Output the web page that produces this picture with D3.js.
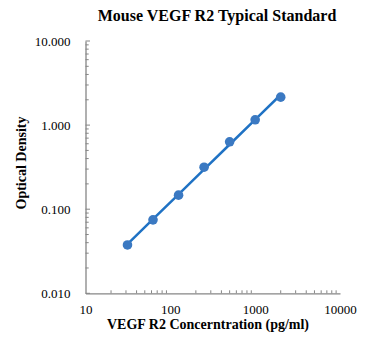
<!DOCTYPE html>
<html><head><meta charset="utf-8">
<script src="https://cdn.jsdelivr.net/npm/d3@7"></script>
<style>body{margin:0;background:#fff}svg{display:block}text{font-family:"Liberation Serif","Times New Roman",serif}</style>
</head><body>
<svg id="c" width="371" height="350"></svg>
<script>
const concentrations = [31.25, 62.5, 125, 250, 500, 1000, 2000];
const opticalDensity = [0.0376, 0.0747, 0.147, 0.316, 0.633, 1.156, 2.15];
const xTickValues = [10, 100, 1000, 10000];
const yTickValues = [0.01, 0.1, 1, 10];
const title = "Mouse VEGF R2 Typical Standard";
const xTitle = "VEGF R2 Concerntration (pg/ml)";
const yTitle = "Optical Density";

const svg = d3.select("#c");
const m = {l: 85.5, r: 340, t: 41, b: 293.3};
const x = d3.scaleLog().domain([10, 10000]).range([m.l, m.r]);
const y = d3.scaleLog().domain([0.01, 10]).range([m.b, m.t]);
const axisColor = "#868686";

svg.append("text").attr("x", 217).attr("y", 21).attr("text-anchor", "middle")
  .attr("font-size", 16).attr("font-weight", "bold").text(title);

// minor ticks
const xMinor = [], yMinor = [];
for (let d = 10; d < 10000; d *= 10) for (let k = 2; k <= 9; k++) xMinor.push(d * k);
for (let d = 0.01; d < 9; d *= 10) for (let k = 2; k <= 9; k++) yMinor.push(d * k);

const gx = svg.append("g").attr("transform", `translate(0,${m.b})`)
  .call(d3.axisBottom(x).tickValues(xTickValues).tickFormat(d3.format("d")).tickSize(0).tickPadding(11));
gx.select(".domain").attr("stroke", axisColor).attr("stroke-width", 1.3);
gx.selectAll("text").attr("font-size", 13).attr("font-family", "Liberation Serif").attr("fill", "#000");
gx.selectAll(".minor").data(xMinor).enter().append("line").attr("class", "minor")
  .attr("x1", d => x(d)).attr("x2", d => x(d)).attr("y1", 0).attr("y2", -3)
  .attr("stroke", axisColor).attr("stroke-width", 1);

const gy = svg.append("g").attr("transform", `translate(${m.l},0)`)
  .call(d3.axisLeft(y).tickValues(yTickValues).tickFormat(d3.format(".3f")).tickSize(0).tickPadding(15));
gy.select(".domain").attr("stroke", axisColor).attr("stroke-width", 1.3);
gy.selectAll("text").attr("font-size", 13).attr("font-family", "Liberation Serif").attr("fill", "#000");
gy.selectAll(".major").data(yTickValues).enter().append("line")
  .attr("x1", 0).attr("x2", 4.5).attr("y1", d => y(d)).attr("y2", d => y(d))
  .attr("stroke", axisColor).attr("stroke-width", 1);
gy.selectAll(".minor").data(yMinor).enter().append("line").attr("class", "minor")
  .attr("x1", 0).attr("x2", 3.2).attr("y1", d => y(d)).attr("y2", d => y(d))
  .attr("stroke", axisColor).attr("stroke-width", 1);

svg.append("text").attr("x", 208).attr("y", 329).attr("text-anchor", "middle")
  .attr("font-size", 14).attr("font-weight", "bold").text(xTitle);
svg.append("text").attr("transform", "translate(26,163) rotate(-90)").attr("text-anchor", "middle")
  .attr("font-size", 14).attr("font-weight", "bold").text(yTitle);

// power trendline (least squares in log-log space from data)
const lx = concentrations.map(Math.log10), ly = opticalDensity.map(Math.log10);
const mx = d3.mean(lx), my = d3.mean(ly);
const slope = d3.sum(lx, (v, i) => (v - mx) * (ly[i] - my)) / d3.sum(lx, v => (v - mx) ** 2);
const icpt = my - slope * mx;
const fit = concentrations.map(c => [c, Math.pow(10, icpt + slope * Math.log10(c))]);
svg.append("path").datum(fit).attr("fill", "none").attr("stroke", "#1f72c4").attr("stroke-width", 2.5)
  .attr("d", d3.line().x(d => x(d[0])).y(d => y(d[1])));

svg.selectAll(".pt").data(concentrations).enter().append("circle")
  .attr("cx", d => x(d)).attr("cy", (d, i) => y(opticalDensity[i])).attr("r", 4.8)
  .attr("fill", "#3b79c2");
</script>
</body></html>
